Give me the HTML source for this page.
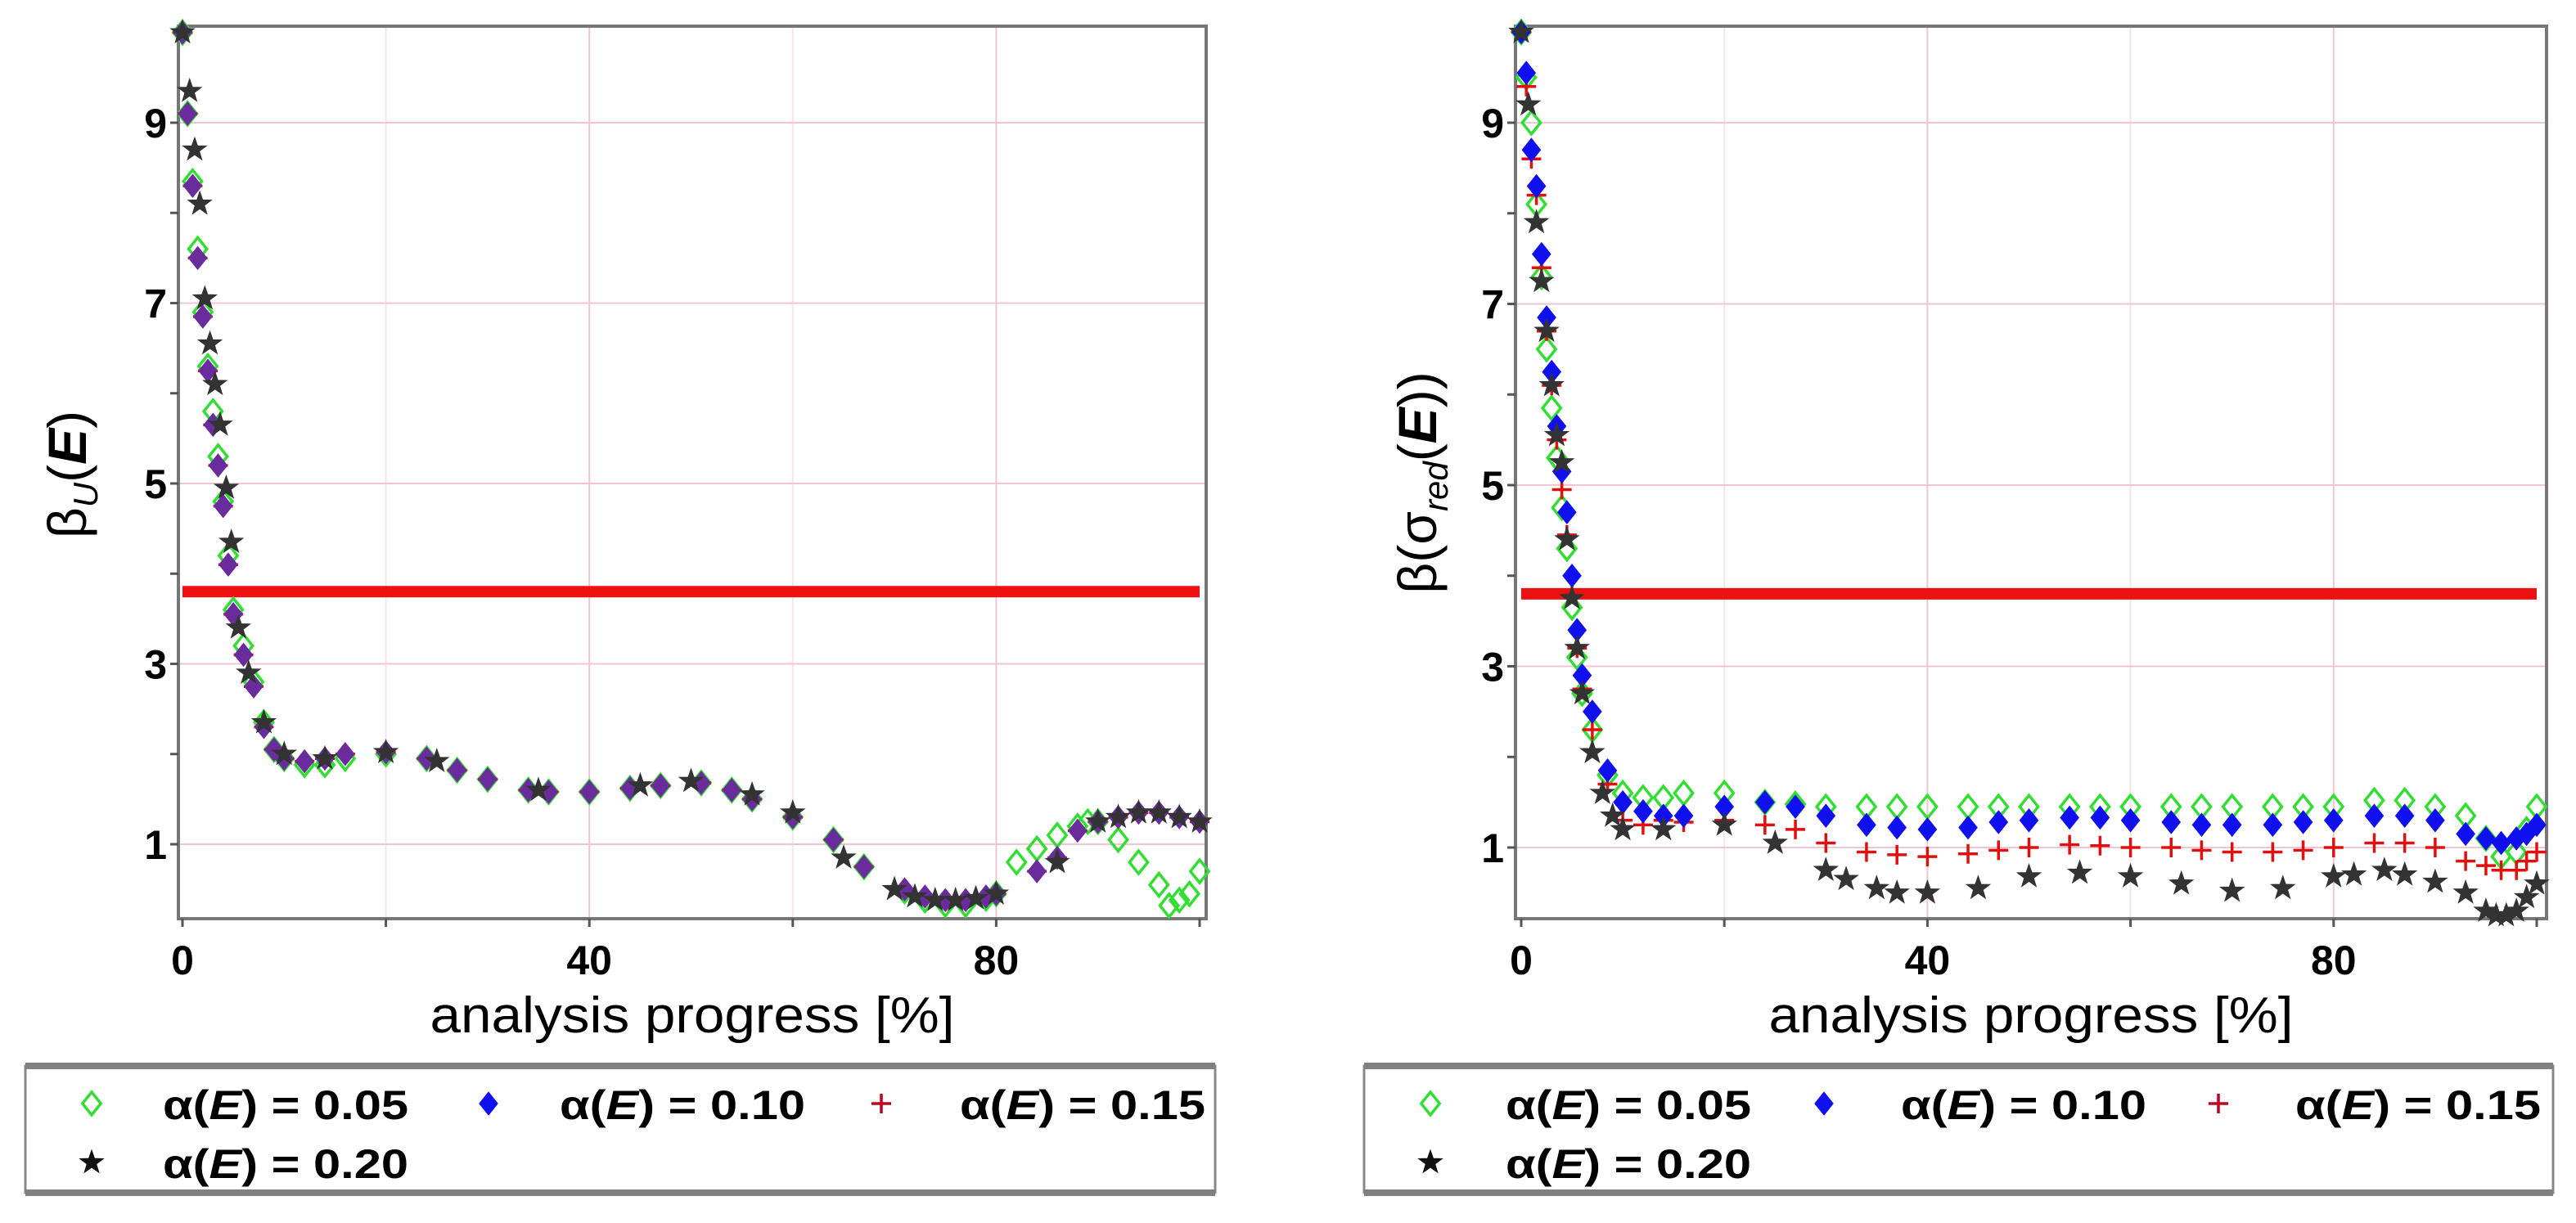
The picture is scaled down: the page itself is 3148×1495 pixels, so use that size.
<!DOCTYPE html>
<html><head><meta charset="utf-8"><style>
html,body{margin:0;padding:0;background:#fff}
svg{display:block}
text{font-family:"Liberation Sans",sans-serif}
</style></head><body>
<svg id="chart" width="3148" height="1495" viewBox="0 0 3148 1495" xmlns="http://www.w3.org/2000/svg">
<g id="left"></g>
<g id="right"></g>
</svg>
<script>
// ---------- data ----------
const xTicks = [0, 40, 80];
const yTicks = [1, 3, 5, 7, 9];
const threshold = 3.8;
const legendLabels = ["α(E) = 0.05", "α(E) = 0.10", "α(E) = 0.15", "α(E) = 0.20"];

// left panel (beta_U)
const L_x_main = [0,0.5,1,1.5,2,2.5,3,3.5,4,4.5,5,6,7,8,9,10,12,14,16,20,24,27,30,34,36,40,44,47,51,54,56,60,64,67,71,73,75,77,79,80,84,86,88,90,92,94,96,98,100];
const L_y_main = [10,9.1,8.3,7.5,6.85,6.25,5.65,5.2,4.75,4.1,3.55,3.1,2.75,2.3,2.05,1.95,1.92,1.95,2.0,2.02,1.95,1.82,1.72,1.6,1.58,1.58,1.62,1.65,1.68,1.6,1.5,1.3,1.05,0.75,0.5,0.42,0.38,0.38,0.42,0.45,0.7,0.85,1.15,1.25,1.3,1.35,1.35,1.3,1.25];
const L_x_green = [0,0.5,1,1.5,2,2.5,3,3.5,4,4.5,5,6,7,8,9,10,12,14,16,20,24,27,30,34,36,40,44,47,51,54,56,60,64,67,71,73,75,77,79,80,82,84,86,88,89,90,92,94,96,97,98,99,100];
const L_y_green = [10,9.1,8.35,7.6,6.9,6.3,5.8,5.3,4.8,4.2,3.6,3.2,2.8,2.35,2.05,1.95,1.88,1.88,1.95,2.0,1.95,1.82,1.72,1.6,1.58,1.58,1.62,1.65,1.68,1.6,1.5,1.3,1.05,0.75,0.48,0.38,0.33,0.33,0.4,0.45,0.8,0.95,1.1,1.2,1.25,1.25,1.05,0.8,0.55,0.32,0.38,0.45,0.7];
const L_x_star = [0,0.7,1.2,1.7,2.2,2.7,3.2,3.7,4.3,4.8,5.5,6.5,8,10,14,20,25,35,45,50,56,60,65,70,72,74,76,78,80,86,90,92,94,96,98,100];
const L_y_star = [10,9.35,8.7,8.1,7.05,6.55,6.1,5.65,4.95,4.35,3.4,2.9,2.35,2.0,1.95,2.02,1.92,1.6,1.65,1.7,1.55,1.35,0.85,0.5,0.42,0.38,0.38,0.4,0.45,0.8,1.25,1.3,1.35,1.35,1.3,1.25];

// right panel (beta(sigma_red))
const R_x = [0,0.5,1,1.5,2,2.5,3,3.5,4,4.5,5,5.5,6,7,8.5,10,12,14,16,20,24,27,30,34,37,40,44,47,50,54,57,60,64,67,70,74,77,80,84,87,90,93,95,96.5,98,99,100];
const R_y_green = [10,9.5,9.0,8.1,7.3,6.5,5.85,5.3,4.75,4.3,3.65,3.1,2.7,2.3,1.8,1.6,1.55,1.55,1.6,1.6,1.5,1.48,1.45,1.45,1.45,1.45,1.45,1.45,1.45,1.45,1.45,1.45,1.45,1.45,1.45,1.45,1.45,1.45,1.52,1.52,1.45,1.35,1.1,0.9,0.95,1.2,1.45];
const R_y_blue = [10,9.55,8.7,8.3,7.55,6.85,6.25,5.65,5.15,4.7,4.0,3.4,2.9,2.5,1.85,1.5,1.4,1.35,1.35,1.45,1.5,1.45,1.35,1.25,1.22,1.2,1.22,1.28,1.3,1.33,1.33,1.3,1.28,1.25,1.25,1.25,1.28,1.3,1.35,1.35,1.3,1.15,1.1,1.05,1.1,1.15,1.25];
const R_y_red = [10,9.4,8.6,8.2,7.4,6.7,6.1,5.5,4.95,4.45,3.8,3.2,2.75,2.3,1.7,1.3,1.25,1.3,1.28,1.3,1.25,1.2,1.05,0.95,0.92,0.9,0.93,0.97,1.0,1.03,1.02,1.0,1.0,0.97,0.95,0.95,0.97,1.0,1.05,1.05,1.0,0.85,0.8,0.75,0.75,0.85,0.95];
const R_x_star = [0,0.7,1.5,2,2.5,3,3.5,4,4.5,5,5.5,6,7,8,9,10,14,20,25,30,32,35,37,40,45,50,55,60,65,70,75,80,82,85,87,90,93,95,96,97,98,99,100];
const R_y_star = [10,9.2,7.9,7.25,6.7,6.1,5.55,5.25,4.4,3.75,3.2,2.7,2.05,1.6,1.35,1.2,1.2,1.25,1.05,0.75,0.65,0.55,0.5,0.5,0.55,0.68,0.72,0.68,0.6,0.52,0.55,0.68,0.7,0.75,0.7,0.62,0.5,0.3,0.25,0.25,0.3,0.45,0.6];

// ---------- drawing ----------
const NS = "http://www.w3.org/2000/svg";
function mk(tag, attrs, parent){const e=document.createElementNS(NS,tag);for(const k in attrs)e.setAttribute(k,attrs[k]);parent.appendChild(e);return e;}

function diamond(g,cx,cy,fill,stroke){
  const s=14;
  return mk("polygon",{points:`${cx},${cy-s} ${cx+s*0.8},${cy} ${cx},${cy+s} ${cx-s*0.8},${cy}`,fill:fill,stroke:stroke,"stroke-width":fill==="none"?3.5:1},g);
}
function plus(g,cx,cy,color){
  const s=12;
  return mk("path",{d:`M${cx-s},${cy}H${cx+s}M${cx},${cy-s}V${cy+s}`,stroke:color,"stroke-width":3.5,fill:"none"},g);
}
function star(g,cx,cy,color){
  let pts=[];
  for(let i=0;i<10;i++){const r=i%2?6:15;const a=-Math.PI/2+i*Math.PI/5;pts.push((cx+r*Math.cos(a)).toFixed(1)+","+(cy+r*Math.sin(a)).toFixed(1));}
  return mk("polygon",{points:pts.join(" "),fill:color,stroke:color,"stroke-width":1},g);
}

function panel(g, P, series, ylab){
  const sx=v=>P.x0+(v-0)*(P.x100-P.x0)/100;
  const sy=v=>P.y1+(1-v)*(P.y1-P.y9)/8;
  const grid=mk("g",{},g);
  
  
  [20,60].forEach(v=>mk("line",{x1:sx(v),x2:sx(v),y1:P.top,y2:P.bot,stroke:"#f6e4ea","stroke-width":2},grid));
  xTicks.filter(v=>v>0).forEach(v=>mk("line",{x1:sx(v),x2:sx(v),y1:P.top,y2:P.bot,stroke:"#f0c4d0","stroke-width":2},grid));
  yTicks.forEach(v=>mk("line",{x1:P.left,x2:P.right,y1:sy(v),y2:sy(v),stroke:"#f0c4d0","stroke-width":2},grid));
  const fr=mk("rect",{x:P.left,y:P.top,width:P.right-P.left,height:P.bot-P.top,fill:"none",stroke:"#777","stroke-width":4},g);
  
  
  [0,20,40,60,80,100].forEach(v=>mk("line",{x1:sx(v),x2:sx(v),y1:P.bot,y2:P.bot+10,stroke:"#555","stroke-width":3},g));
  [2,4,6,8].concat(yTicks).forEach(v=>mk("line",{x1:P.left-10,x2:P.left,y1:sy(v),y2:sy(v),stroke:"#555","stroke-width":3},g));
  xTicks.forEach(v=>{const t=mk("text",{x:sx(v),y:P.bot+68,"text-anchor":"middle","font-size":50,"font-weight":"bold"},g);t.textContent=v;
    
    });
  yTicks.forEach(v=>{const t=mk("text",{x:P.left-14,y:sy(v)+18,"text-anchor":"end","font-size":50,"font-weight":"bold"},g);t.textContent=v;
    
    });
  const xt=mk("text",{x:(P.left+P.right)/2,y:1262,"text-anchor":"middle","font-size":62,textLength:641,lengthAdjust:"spacingAndGlyphs"},g);
  xt.textContent="analysis progress [%]";
  
  
  const yt=mk("text",{x:0,y:0,"text-anchor":"middle","font-size":66,transform:`translate(${P.ylabX},${P.ylabY}) rotate(-90)`},g);
  yt.innerHTML=ylab;
  
  
  const th=mk("line",{x1:sx(0),x2:sx(100),y1:sy(threshold),y2:sy(threshold),stroke:"#ee1111","stroke-width":14},g);
  
  
  series.forEach(s=>{
    const sg=mk("g",{},g);
    
    
    s.xs.forEach((xv,i)=>{
      const cx=sx(xv), cy=sy(s.ys[i]);
      let m;
      if(s.kind==="open") m=diamond(sg,cx,cy,"none","#33dd33");
      else if(s.kind==="fill") m=diamond(sg,cx,cy,s.color,s.color);
      else if(s.kind==="plus") m=plus(sg,cx,cy,"#e01010");
      else m=star(sg,cx,cy,"#333");
      
      
    });
  });
  const lg=mk("g",{},g);
  
  
  mk("rect",{x:P.lgL,y:1303,width:P.lgR-P.lgL,height:155,fill:"#fff",stroke:"#888","stroke-width":3},lg);
  mk("line",{x1:P.lgL,x2:P.lgR,y1:1303,y2:1303,stroke:"#808080","stroke-width":8},lg);
  mk("line",{x1:P.lgL,x2:P.lgR,y1:1458,y2:1458,stroke:"#808080","stroke-width":8},lg);
  const kinds=["open","fill","plus","star"];
  const pos=[[P.m[0],P.t[0],1349],[P.m[1],P.t[1],1349],[P.m[2],P.t[2],1349],[P.m[0],P.t[0],1421]];
  legendLabels.forEach((lab,i)=>{
    const [mx,tx,ty]=pos[i];
    const eg=mk("g",{},lg);
    
    
    if(kinds[i]==="open") diamond(eg,mx,ty,"none","#33dd33");
    else if(kinds[i]==="fill") diamond(eg,mx,ty,"#1010ee","#1010ee");
    else if(kinds[i]==="plus") plus(eg,mx,ty,"#c00020");
    else star(eg,mx,ty,"#111");
    const t=mk("text",{x:tx,y:ty+19,"font-size":50,"font-weight":"bold",textLength:300,lengthAdjust:"spacingAndGlyphs"},eg);
    t.innerHTML='α(<tspan font-style="italic">E</tspan>) = '+lab.split("= ")[1];
  });
}

panel(document.getElementById("left"),
  {x0:223,x100:1466,y1:1032,y9:150,left:218,right:1474,top:32,bot:1123,ylabX:105,ylabY:580,
   lgL:31,lgR:1485,m:[112,597,1077],t:[199,684,1173]},
  [{name:"series-alpha-0.05",kind:"open",xs:L_x_green,ys:L_y_green},
   {name:"series-alpha-0.15",kind:"plus",xs:L_x_main,ys:L_y_main},
   {name:"series-alpha-0.10",kind:"fill",color:"#6a2c9c",xs:L_x_main,ys:L_y_main},
   {name:"series-alpha-0.20",kind:"star",xs:L_x_star,ys:L_y_star}],
  'β<tspan font-size="42" dy="14" font-style="italic">U</tspan><tspan dy="-14">(</tspan><tspan font-style="italic" font-weight="bold">E</tspan>)');

panel(document.getElementById("right"),
  {x0:1859,x100:3100,y1:1036,y9:150,left:1852,right:3112,top:32,bot:1123,ylabX:1755,ylabY:590,
   lgL:1667,lgR:3120,m:[1748,2229,2711],t:[1840,2323,2805]},
  [{name:"series-alpha-0.05",kind:"open",xs:R_x,ys:R_y_green},
   {name:"series-alpha-0.15",kind:"plus",xs:R_x,ys:R_y_red},
   {name:"series-alpha-0.10",kind:"fill",color:"#1010ee",xs:R_x,ys:R_y_blue},
   {name:"series-alpha-0.20",kind:"star",xs:R_x_star,ys:R_y_star}],
  'β(σ<tspan font-size="42" dy="14" font-style="italic">red</tspan><tspan dy="-14">(</tspan><tspan font-style="italic" font-weight="bold">E</tspan>))');
</script>
</body></html>
